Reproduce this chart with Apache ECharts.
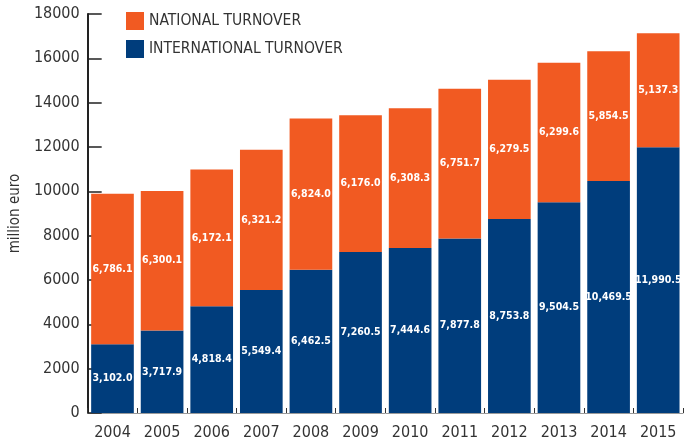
<!DOCTYPE html>
<html>
<head>
<meta charset="utf-8">
<script src="https://cdn.jsdelivr.net/npm/echarts@6/dist/echarts.min.js"></script>
<style>
  html, body { margin: 0; padding: 0; background: #fff; }
  #turnover-chart { width: 688px; height: 446px; }
</style>
</head>
<body>
<div id="turnover-chart"></div>
<script>
var years = ['2004', '2005', '2006', '2007', '2008', '2009', '2010', '2011', '2012', '2013', '2014', '2015'];
var international = [3102.0, 3717.9, 4818.4, 5549.4, 6462.5, 7260.5, 7444.6, 7877.8, 8753.8, 9504.5, 10469.5, 11990.5];
var national = [6786.1, 6300.1, 6172.1, 6321.2, 6824.0, 6176.0, 6308.3, 6751.7, 6279.5, 6299.6, 5854.5, 5137.3];

var font = "'DejaVu Sans Condensed', sans-serif";

function fmt(p) {
  return p.value.toLocaleString('en-US', { minimumFractionDigits: 1, maximumFractionDigits: 1 });
}

var barLabel = {
  show: true,
  position: 'inside',
  color: '#fff',
  fontFamily: font,
  fontWeight: 'bold',
  fontSize: 10.5,
  overflow: 'none',
  formatter: fmt
};

var myChart = echarts.init(document.getElementById('turnover-chart'));

var option = {
  animation: false,
  grid: {
    left: 83,
    right: 5,
    top: 14,
    bottom: 33
  },
  legend: {
    orient: 'vertical',
    left: 126,
    top: 12,
    padding: 0,
    itemWidth: 18,
    itemHeight: 18,
    itemGap: 10,
    icon: 'rect',
    textStyle: {
      fontFamily: font,
      fontSize: 15.5,
      color: '#333'
    },
    data: ['NATIONAL TURNOVER', 'INTERNATIONAL TURNOVER']
  },
  xAxis: {
    type: 'category',
    data: years,
    axisLine: { lineStyle: { color: '#9a9a9a', width: 1 } },
    axisTick: {
      show: true,
      inside: true,
      length: 5,
      lineStyle: { color: '#333', width: 1 }
    },
    axisLabel: {
      margin: 12,
      fontFamily: font,
      fontSize: 16,
      color: '#333'
    }
  },
  yAxis: {
    type: 'value',
    min: 0,
    max: 18000,
    interval: 2000,
    name: 'million euro',
    nameLocation: 'middle',
    nameGap: 50,
    nameTextStyle: {
      fontFamily: font,
      fontSize: 15,
      color: '#333'
    },
    splitLine: { show: false },
    axisLine: { show: true, lineStyle: { color: '#222', width: 2 } },
    axisTick: {
      show: true,
      inside: true,
      length: 14,
      lineStyle: { color: '#222', width: 1.5 }
    },
    axisLabel: {
      margin: 8,
      fontFamily: font,
      fontSize: 16,
      color: '#333',
      formatter: function (v) { return String(v); }
    }
  },
  series: [
    {
      name: 'INTERNATIONAL TURNOVER',
      type: 'bar',
      stack: 'turnover',
      barCategoryGap: '14%',
      itemStyle: { color: '#003d7c' },
      label: barLabel,
      data: international
    },
    {
      name: 'NATIONAL TURNOVER',
      type: 'bar',
      stack: 'turnover',
      barCategoryGap: '14%',
      itemStyle: { color: '#f15a22' },
      label: barLabel,
      data: national
    }
  ]
};

myChart.setOption(option);
</script>
</body>
</html>
